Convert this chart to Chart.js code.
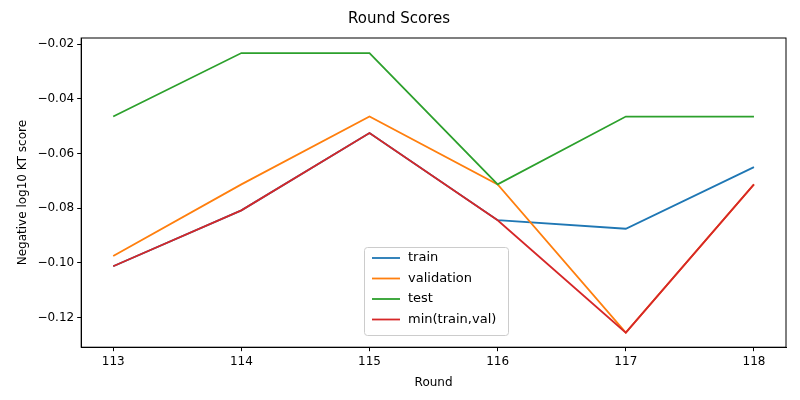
<!DOCTYPE html>
<html><head><script src="https://cdn.jsdelivr.net/npm/chart.js@4"></script>
<style>body{margin:0;background:#fff}#w{width:800px;height:400px}</style></head>
<body><div id="w"><canvas id="c"></canvas></div>
<script>
const rounds=[113,114,115,116,117,118];
const train=[-0.1012,-0.0808,-0.0525,-0.0844,-0.0875,-0.0650];
const validation=[-0.0975,-0.0713,-0.0465,-0.0713,-0.1255,-0.0713];
const test=[-0.0465,-0.0233,-0.0233,-0.0713,-0.0465,-0.0465];
const minTV=[-0.1012,-0.0808,-0.0525,-0.0844,-0.1255,-0.0713];
const yTicks=[-0.12,-0.10,-0.08,-0.06,-0.04,-0.02];
const names=['train','validation','test','min(train,val)'];
const cols=['#1f77b4','#ff7f0e','#2ca02c','#d62728'];
const series=[train,validation,test,minTV];
const font={family:'DejaVu Sans',size:12};
const legendPlugin={id:'lg',afterDraw(ch){const c=ch.ctx;const x=364,y=247,w=144,h=88;
c.save();c.fillStyle='rgba(255,255,255,0.8)';c.strokeStyle='#ccc';c.lineWidth=1;
c.beginPath();c.roundRect(x+0.5,y+0.5,w,h,3);c.fill();c.stroke();
c.font='13px DejaVu Sans';c.textBaseline='middle';
names.forEach((n,i)=>{const yy=y+11+i*20.5;c.strokeStyle=cols[i];c.lineWidth=1.8;c.beginPath();c.moveTo(x+8,yy);c.lineTo(x+36,yy);c.stroke();c.fillStyle='#000';c.fillText(n,x+44,yy);});c.restore();}};
const grid={display:true,drawOnChartArea:false,drawTicks:true,tickLength:4,color:'#000'};
new Chart(document.getElementById('c'),{type:'line',
data:{datasets:series.map((s,i)=>({label:names[i],order:3-i,data:rounds.map((r,j)=>({x:r,y:s[j]})),borderColor:cols[i],backgroundColor:cols[i],borderWidth:1.8,pointRadius:0,tension:0}))},
options:{responsive:true,maintainAspectRatio:false,animation:false,
layout:{padding:{left:12,right:14,top:4,bottom:6}},
plugins:{legend:{display:false},tooltip:{enabled:false},
title:{display:true,text:'Round Scores',color:'#000',font:{family:'DejaVu Sans',size:15,weight:'normal'},padding:{top:6,bottom:10}}},
scales:{x:{type:'linear',min:112.75,max:118.25,grid,border:{color:'#000'},
afterBuildTicks:a=>{a.ticks=rounds.map(v=>({value:v}))},
ticks:{color:'#000',font,padding:3,callback:v=>String(v)},title:{display:true,text:'Round',color:'#000',font}},
y:{min:-0.1308,max:-0.0178,grid,border:{color:'#000'},
afterBuildTicks:a=>{a.ticks=yTicks.map(v=>({value:v}))},
ticks:{color:'#000',font,padding:3,callback:v=>'\u2212'+Math.abs(v).toFixed(2)},
title:{display:true,text:'Negative log10 KT score',color:'#000',font}}}},
plugins:[legendPlugin,{id:'frame',afterDraw(ch){const a=ch.chartArea,c=ch.ctx;c.save();c.strokeStyle='#000';c.lineWidth=1;c.strokeRect(a.left,a.top,a.right-a.left,a.bottom-a.top);c.restore();}}]});
</script></body></html>
